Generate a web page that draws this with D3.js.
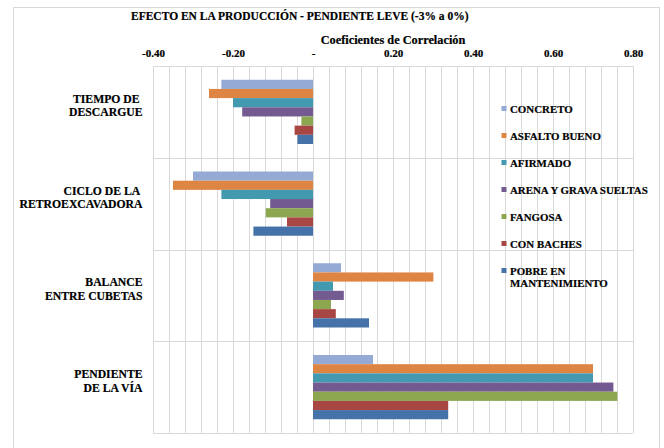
<!DOCTYPE html>
<html>
<head>
<meta charset="utf-8">
<script src="https://cdn.jsdelivr.net/npm/d3@7"></script>
</head>
<body style="margin:0;background:#fff">
<svg id="chart" width="664" height="448"></svg>
<script>
// ---- data ----
const categories = [
  ["TIEMPO DE ", "DESCARGUE"],
  ["CICLO DE LA ", "RETROEXCAVADORA"],
  ["BALANCE", "ENTRE CUBETAS"],
  ["PENDIENTE", "DE LA VÍA"]
];
const seriesNames = ["CONCRETO", "ASFALTO BUENO", "AFIRMADO", "ARENA Y GRAVA SUELTAS", "FANGOSA", "CON BACHES", "POBRE EN MANTENIMIENTO"];
const seriesColors = ["#94AAD4", "#DE8544", "#4299B0", "#735A91", "#8CA750", "#A84644", "#4572A8"];
// values per series, in category order
const concreto   = [-0.229, -0.300, 0.070, 0.150];
const asfalto    = [-0.260, -0.350, 0.301, 0.700];
const afirmado   = [-0.200, -0.229, 0.050, 0.700];
const arena      = [-0.177, -0.107, 0.077, 0.751];
const fangosa    = [-0.029, -0.118, 0.045, 0.761];
const conBaches  = [-0.046, -0.065, 0.057, 0.338];
const pobre      = [-0.039, -0.149, 0.140, 0.338];
const seriesValues = [concreto, asfalto, afirmado, arena, fangosa, conBaches, pobre];
const tickValues = [-0.4, -0.2, 0, 0.2, 0.4, 0.6, 0.8];
const tickLabels = ["-0.40", "-0.20", "-", "0.20", "0.40", "0.60", "0.80"];
const titleText = "EFECTO EN LA PRODUCCIÓN - PENDIENTE LEVE (-3% a 0%)";
const axisTitle = "Coeficientes de Correlación";

// ---- layout ----
const FONT = "Liberation Serif";
const svg = d3.select("#chart");
const plot = { left: 153, right: 633, top: 66, bottom: 433 };
const grid = "#d9d9d9";

function styleText(sel, size) {
  return sel.style("font-family", FONT).style("font-weight", "bold")
    .style("font-size", size).attr("fill", "#000")
    .attr("stroke", "#000").attr("stroke-width", 0.2);
}

// chart border
svg.append("rect").attr("x", 13.5).attr("y", 7.5).attr("width", 646).attr("height", 450)
  .attr("fill", "none").attr("stroke", grid);

const x = d3.scaleLinear().domain([-0.4, 0.8]).range([plot.left, plot.right]);
const y = d3.scaleBand().domain(d3.range(categories.length)).range([plot.top, plot.bottom]);
const groupOffset = y.bandwidth() * 0.15;
const yInner = d3.scaleBand().domain(d3.range(seriesNames.length))
  .range([groupOffset, y.bandwidth() - groupOffset]);

// vertical gridlines every 0.04
const gridVals = d3.range(0, 31).map(i => -0.4 + i * 0.04);
svg.append("g").selectAll("line").data(gridVals).join("line")
  .attr("x1", d => Math.round(x(d)) + 0.5).attr("x2", d => Math.round(x(d)) + 0.5)
  .attr("y1", plot.top).attr("y2", plot.bottom)
  .attr("stroke", grid).attr("stroke-width", 1);
// horizontal category boundaries
const hb = d3.range(categories.length + 1).map(i => plot.top + i * y.step());
svg.append("g").selectAll("line").data(hb).join("line")
  .attr("x1", plot.left).attr("x2", plot.right)
  .attr("y1", d => Math.round(d) + 0.5).attr("y2", d => Math.round(d) + 0.5)
  .attr("stroke", grid).attr("stroke-width", 1);

// bars
const barData = [];
seriesValues.forEach((vals, s) => vals.forEach((v, c) => barData.push({ s, c, v })));
svg.append("g").selectAll("rect").data(barData).join("rect")
  .attr("x", d => x(Math.min(0, d.v)))
  .attr("width", d => Math.abs(x(d.v) - x(0)))
  .attr("y", d => y(d.c) + yInner(d.s))
  .attr("height", yInner.bandwidth())
  .attr("fill", d => seriesColors[d.s]);

// top axis
const axis = d3.axisTop(x).tickValues(tickValues)
  .tickFormat((d, i) => tickLabels[i]).tickSize(0).tickPadding(9);
const ag = svg.append("g").attr("transform", `translate(0,${plot.top})`).call(axis);
ag.select(".domain").remove();
styleText(ag.selectAll("text"), "11px");

// titles
styleText(svg.append("text").attr("x", 131).attr("y", 20), "11.5px").text(titleText);
styleText(svg.append("text").attr("x", (plot.left + plot.right) / 2).attr("y", 44)
  .attr("text-anchor", "middle"), "12.3px").text(axisTitle);

// category labels
const catG = svg.append("g");
categories.forEach((lines, c) => {
  const cy = y(c) + y.bandwidth() / 2;
  const t = styleText(catG.append("text").attr("text-anchor", "end"), "11.7px")
    .style("white-space", "pre");
  lines.forEach((ln, i) => {
    t.append("tspan").attr("x", 142.5)
      .attr("y", cy + 4.5 + (i - (lines.length - 1)) * 13.5)
      .text(ln);
  });
});

// legend
const lg = svg.append("g");
seriesNames.forEach((name, i) => {
  const ly = 109 + i * 27;
  lg.append("rect").attr("x", 501.5).attr("y", ly - 3).attr("width", 5).attr("height", 5)
    .attr("fill", seriesColors[i]);
  const words = name === "POBRE EN MANTENIMIENTO" ? ["POBRE EN", "MANTENIMIENTO"] : [name];
  const t = styleText(lg.append("text"), "10.9px");
  words.forEach((w, k) => {
    t.append("tspan").attr("x", 510).attr("y", ly + 3.8 + k * 12.3).text(w);
  });
});
</script>
</body>
</html>
